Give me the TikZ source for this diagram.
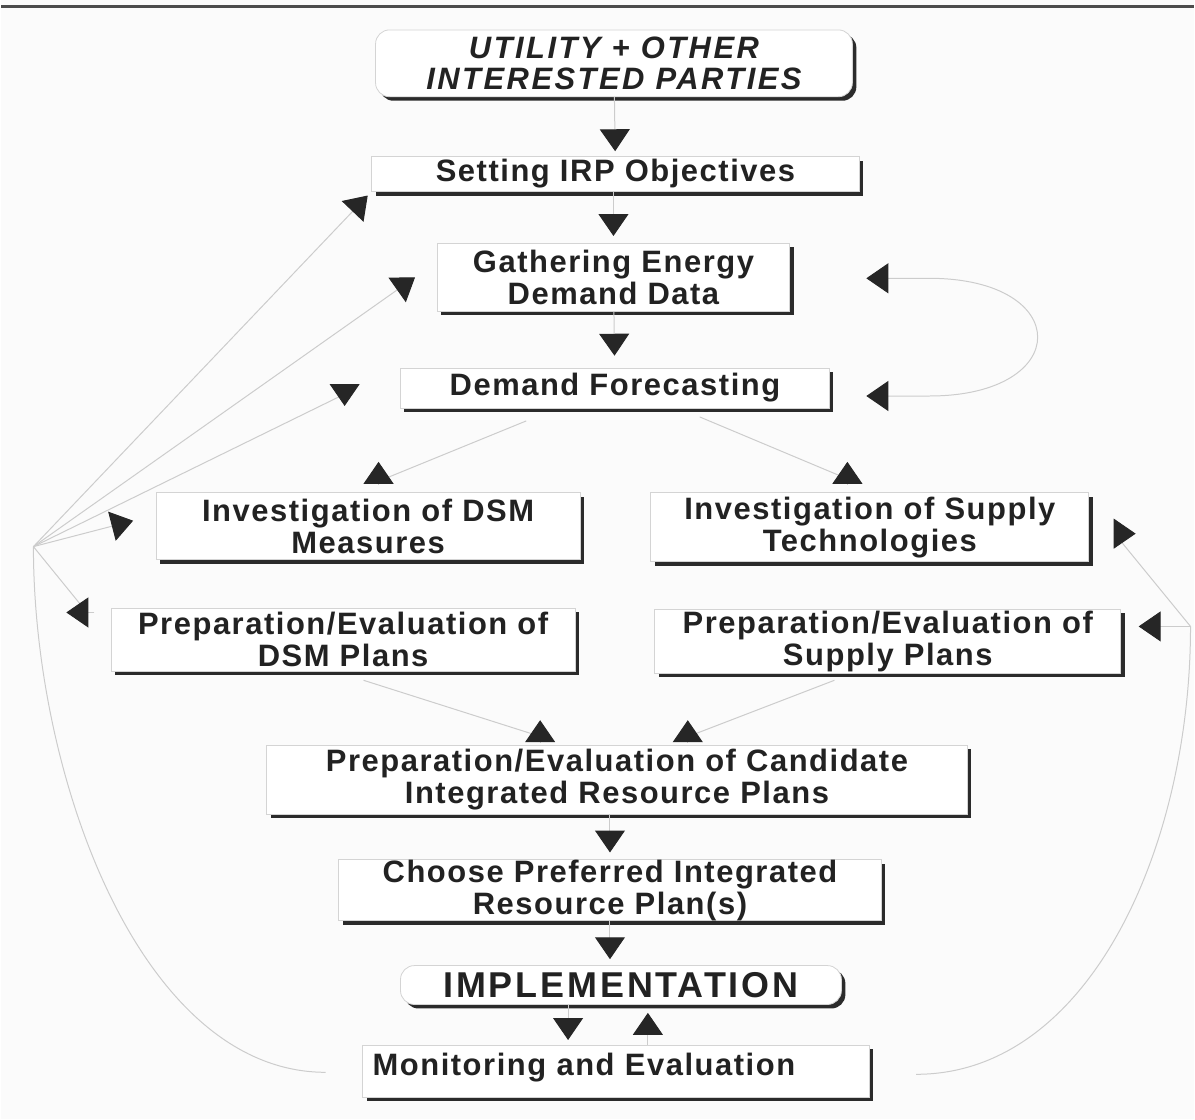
\documentclass[tikz,border=0pt]{standalone}
\usepackage{fontspec}
\newfontfamily\boxfont[LetterSpace=5]{Liberation Sans}
\newfontfamily\capfont[LetterSpace=8]{Liberation Sans}
\usetikzlibrary{arrows.meta,shadows}
\definecolor{boxline}{HTML}{D4D4D4}
\definecolor{shadowgray}{HTML}{2B2B2B}
\definecolor{linegray}{HTML}{CCCCCC}
\definecolor{tipgray}{HTML}{262626}
\definecolor{textgray}{HTML}{222222}
\definecolor{pagegray}{HTML}{FBFBFB}
\tikzset{>={Triangle[length=11pt,width=15pt,color=tipgray]}}

\begin{document}
\begin{tikzpicture}[x=0.5pt,y=-0.5pt,
  box/.style={draw=boxline, fill=white, inner sep=0pt, align=center, text=textgray,
    font=\boxfont\bfseries\fontsize{15.5}{16}\selectfont,
    drop shadow={shadow xshift=2pt, shadow yshift=-2pt, fill=shadowgray, opacity=1}},
  capbox/.style={box, rounded corners=7pt},
  link/.style={draw=linegray, line width=0.5pt}]

\fill[pagegray] (0,0) rectangle (1195,1122);
\draw[line width=1.5pt, draw=black!70] (0,7) -- (1195,7);

% boxes
\node[capbox, minimum width=239pt, minimum height=33.5pt,
  font=\capfont\bfseries\itshape\fontsize{15.5}{16}\selectfont] (parties) at (614,63.5)
  {UTILITY + OTHER\\INTERESTED PARTIES};
\node[box, minimum width=244.5pt, minimum height=17.5pt] (setting) at (615.5,174.5) {Setting IRP Objectives};
\node[box, minimum width=176.5pt, minimum height=34pt] (gather) at (613.5,278) {Gathering Energy\\Demand Data};
\node[box, minimum width=215pt, minimum height=20pt] (demand) at (615,389) {Demand Forecasting};
\node[box, minimum width=212.5pt, minimum height=33.5pt] (dsm) at (367.5,527.5) {Investigation of DSM\\Measures};
\node[box, minimum width=219.5pt, minimum height=34.5pt] (supply) at (870.5,528.5) {Investigation of Supply\\Technologies};
\node[box, minimum width=232.5pt, minimum height=31.5pt] (dsmplan) at (342.5,641.5) {Preparation/Evaluation of\\DSM Plans};
\node[box, minimum width=233.5pt, minimum height=32pt] (supplyplan) at (888.5,643) {Preparation/Evaluation of\\Supply Plans};
\node[box, minimum width=351pt, minimum height=34.5pt] (cand) at (617,781.5) {Preparation/Evaluation of Candidate\\Integrated Resource Plans};
\node[box, minimum width=272pt, minimum height=30.5pt] (choose) at (610,892.5) {Choose Preferred Integrated\\Resource Plan(s)};
\node[capbox, minimum width=221pt, minimum height=19.5pt,
  font=\capfont\bfseries\fontsize{18}{20}\selectfont] (impl) at (621,987.5) {IMPLEMENTATION};
\node[box, text width=244pt, inner xsep=5pt, minimum height=26pt, align=left] (mon) at (616,1074)
  {Monitoring and Evaluation\\[-9pt]\mbox{}};

% main flow
\draw[link,->,shorten >=2.5pt] (parties) -- (setting);
\draw[link,->,shorten >=3.5pt] (gather.north |- setting.south) -- (gather);
\draw[link,->,shorten >=6pt] (gather) -- (demand);
\draw[link,->,shorten >=3.5pt] (cand.south -| choose.north) -- (choose);
\draw[link,->,shorten >=3pt] (choose.south) -- (choose.south |- impl.north);
\draw[link,->,shorten >=2.5pt] ([xshift=-26.5pt]impl.south) -- ([xshift=-26.5pt]impl.south |- mon.north);
\draw[link,->,shorten >=4pt] ([xshift=13.5pt]impl.south |- mon.north) -- ([xshift=13.5pt]impl.south);

% branches
\draw[link] (526,422) -- (384,480);
\draw[link,->] (378,485) -- (378,463);
\draw[link] (700,418) -- (843,478);
\draw[link,->] (848,485) -- (848,463);
\draw[link] (363,682) -- (536,737);
\draw[link,->] (540,744) -- (540,722);
\draw[link] (835,682) -- (692,737);
\draw[link,->] (688,744) -- (688,722);

% forecast loop
\draw[link,<->] (867,279) -- (930,279) .. controls (1075,279) and (1075,397) .. (930,397) -- (867,397);

% feedback left
\coordinate (fan) at (32,548);
\draw[link] (325,1075) .. controls (140,1075) and (32,780) .. (fan);
\draw[link,->,shorten >=2.5pt] (fan) -- (setting.south west);
\draw[link,->] (fan) -- ([xshift=-11pt]gather.west);
\draw[link] (fan) -- (338,398);
\draw[link,->] (344,385) -- (344,407);
\draw[link,->] (fan) -- (132,522);
\draw[link] (fan) -- (80,607);
\draw[link,->] (93,614) -- (65,614);

% feedback right
\coordinate (rfan) at (1192,628);
\draw[link] (917,1077) .. controls (1090,1077) and (1192,850) .. (rfan);
\draw[link,->] (rfan) -- (1140,628);
\draw[link] (rfan) -- (1120,540);
\draw[link,->] (1115,535) -- (1137,535);
\end{tikzpicture}
\end{document}
